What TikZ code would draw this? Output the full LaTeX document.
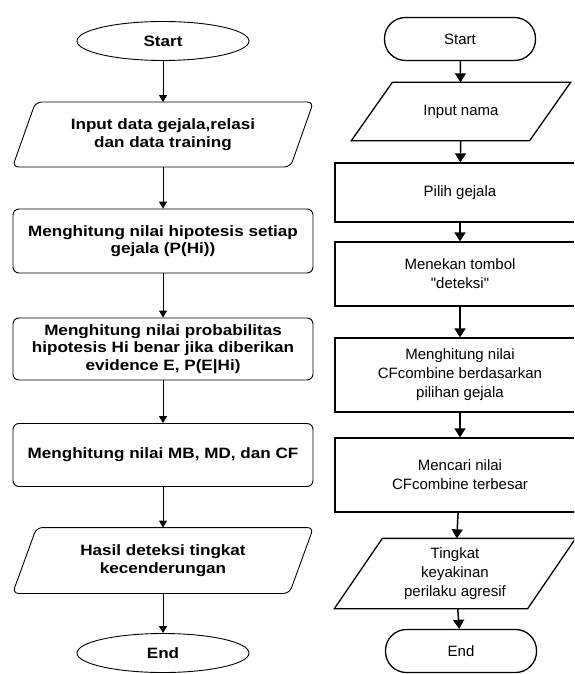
\documentclass[tikz,border=0pt]{standalone}
\usepackage{fontspec}
\setmainfont{Liberation Sans}
\newfontfamily\wideboldfont{Liberation Sans}[FakeStretch=1.14]
\newfontfamily\straightfont{Liberation Sans}[Ligatures=TeXOff]
\usetikzlibrary{shapes.geometric,arrows.meta}
\begin{document}
\begin{tikzpicture}[x=1pt,y=-1pt,
  lbox/.style={draw, line width=0.9pt, rounded corners=6pt, minimum width=300pt, align=center, font=\wideboldfont\bfseries\fontsize{15}{17.5}\selectfont},
  lio/.style={lbox, draw=none},
  lend/.style={draw, line width=0.9pt, ellipse, minimum width=172pt, minimum height=39pt, font=\wideboldfont\bfseries\fontsize{15}{17}\selectfont},
  rbox/.style={draw, line width=1.3pt, minimum width=250pt, align=center, font=\straightfont\fontsize{15}{19}\selectfont},
  rio/.style={rbox, draw=none},
  rend/.style={draw, line width=1.3pt, rounded corners=21pt, minimum width=151pt, minimum height=43pt, font=\fontsize{15}{17}\selectfont},
  larr/.style={-{Triangle[width=8pt,length=7pt]}, line width=0.9pt},
  rarr/.style={-{Triangle[width=11pt,length=9pt]}, line width=1.5pt}]
\useasboundingbox (0,0) rectangle (574,674);
\clip (0,0) rectangle (574,674);

% left flow
\node[lend] (lstart) at (163,41) {Start};
\node[lio, minimum height=64pt] (ldata) at (163,134.5) {Input data gejala,relasi\\dan data training};
\node[lbox, minimum height=64pt] (lhipo) at (163,241) {Menghitung nilai hipotesis setiap\\gejala (P(Hi))};
\node[lbox, minimum height=62pt] (lprob) at (163,349) {Menghitung nilai probabilitas\\hipotesis Hi benar jika diberikan\\evidence E, P(E|Hi)};
\node[lbox, minimum height=63pt] (lcf) at (163,455) {Menghitung nilai MB, MD, dan CF};
\node[lio, minimum height=65pt] (lhasil) at (163,560.5) {Hasil deteksi tingkat\\kecenderungan};
\node[lend] (lend) at (163,653) {End};

\draw[line width=0.9pt, rounded corners=6pt] ([xshift=23pt]ldata.north west) -- (ldata.north east)
  -- ([xshift=-23pt]ldata.south east) -- (ldata.south west) -- cycle;
\draw[line width=0.9pt, rounded corners=6pt] ([xshift=24pt]lhasil.north west) -- (lhasil.north east)
  -- ([xshift=-24pt]lhasil.south east) -- (lhasil.south west) -- cycle;

\draw[larr] (lstart) -- (ldata);
\draw[larr] (ldata) -- (lhipo);
\draw[larr] (lhipo) -- (lprob);
\draw[larr] (lprob) -- (lcf);
\draw[larr] (lcf) -- (lhasil);
\draw[larr] (lhasil) -- (lend);

% right flow
\node[rend] (rstart) at (460,39) {Start};
\node[rio, minimum width=218pt, minimum height=57pt] (rnama) at (461,111.5) {Input nama};
\node[rbox, minimum height=59pt] (rpilih) at (460,192.5) {Pilih gejala};
\node[rbox, minimum height=64pt] (rtombol) at (460,274) {Menekan tombol\\"deteksi"};
\node[rbox, minimum height=74pt] (rhitung) at (460,375) {Menghitung nilai\\CFcombine berdasarkan\\pilihan gejala};
\node[rbox, minimum height=74pt] (rcari) at (460,475) {Mencari nilai\\CFcombine terbesar};
\node[rio, minimum width=240pt, minimum height=69pt] (ragresif) at (455,573.5) {Tingkat\\keyakinan\\perilaku agresif};
\node[rend] (rend) at (461,651) {End};

\draw[line width=1.3pt] ([xshift=41pt]rnama.north west) -- (rnama.north east)
  -- ([xshift=-41pt]rnama.south east) -- (rnama.south west) -- cycle;
\draw[line width=1.3pt] ([xshift=48pt]ragresif.north west) -- (ragresif.north east)
  -- ([xshift=-48pt]ragresif.south east) -- (ragresif.south west) -- cycle;

\draw[rarr] (rstart) -- (rnama);
\draw[rarr] (rnama) -- (rpilih);
\draw[rarr] (rpilih) -- (rtombol);
\draw[rarr] (rtombol) -- (rhitung);
\draw[rarr] (rhitung) -- (rcari);
\draw[rarr] (rcari) -- (ragresif);
\draw[rarr] (ragresif) -- (rend);
\end{tikzpicture}
\end{document}
